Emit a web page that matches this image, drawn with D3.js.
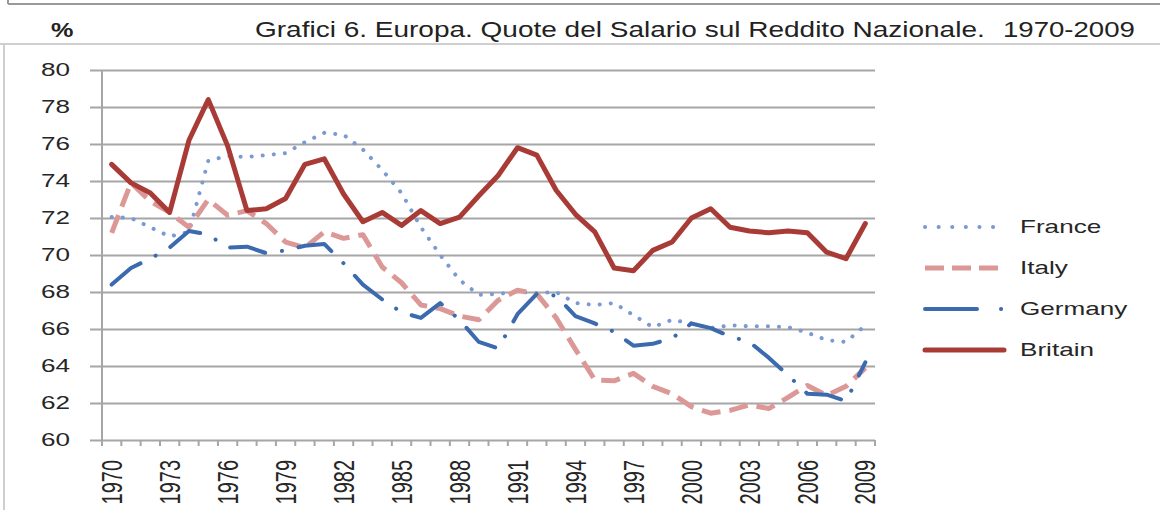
<!DOCTYPE html>
<html lang="it">

<head>
    <meta charset="UTF-8">
    <title>Grafici 6. Europa. Quote del Salario sul Reddito Nazionale</title>
    <style>
        body {
            margin: 0;
            padding: 0;
            background-color: #fff;
        }

        svg {
            display: block;
            font-family: 'Liberation Sans', Arial, sans-serif;
        }

        .grid line {
            stroke: #a6a6a6;
            stroke-width: 2px;
        }

        .tick text {
            fill: #262626;
        }

        .series {
            fill: none;
            stroke-linejoin: round;
        }
    </style>
</head>

<body>
    <svg width="1160" height="521"></svg>

    <script src="https://d3js.org/d3.v7.min.js"></script>
    <script>
        // dati
        const years = ["1970", "1971", "1972", "1973", "1974", "1975", "1976", "1977", "1978", "1979",
            "1980", "1981", "1982", "1983", "1984", "1985", "1986", "1987", "1988", "1989",
            "1990", "1991", "1992", "1993", "1994", "1995", "1996", "1997", "1998", "1999",
            "2000", "2001", "2002", "2003", "2004", "2005", "2006", "2007", "2008", "2009"];
        const yearLabels = ["1970", "1973", "1976", "1979", "1982", "1985", "1988", "1991",
            "1994", "1997", "2000", "2003", "2006", "2009"];
        const yTicks = [60, 62, 64, 66, 68, 70, 72, 74, 76, 78, 80];

        const france = [72.05, 72.0, 71.5, 71.0, 71.25, 75.1, 75.35, 75.3, 75.4, 75.5,
            76.1, 76.6, 76.5, 75.7, 74.6, 73.35, 71.5, 70.0, 68.65, 67.85,
            67.9, 68.0, 67.95, 68.0, 67.4, 67.3, 67.4, 66.75, 66.1, 66.5,
            66.3, 66.05, 66.2, 66.15, 66.15, 66.1, 65.8, 65.4, 65.3, 66.2];
        const italy = [71.2, 73.9, 72.9, 72.3, 71.5, 73.0, 72.15, 72.4, 71.7, 70.7,
            70.4, 71.25, 70.9, 71.1, 69.35, 68.5, 67.3, 67.1, 66.7, 66.5,
            67.55, 68.1, 67.9, 66.6, 64.9, 63.25, 63.2, 63.6, 62.9, 62.5,
            61.8, 61.45, 61.6, 61.9, 61.7, 62.3, 62.95, 62.4, 62.9, 63.9];
        const germany = [68.4, 69.3, 69.8, 70.4, 71.3, 71.1, 70.4, 70.45, 70.1, 70.25,
            70.5, 70.6, 69.55, 68.4, 67.6, 66.9, 66.6, 67.4, 66.5, 65.3,
            64.95, 66.8, 67.9, 67.8, 66.7, 66.3, 65.85, 65.1, 65.2, 65.5,
            66.3, 66.05, 65.6, 65.3, 64.45, 63.5, 62.5, 62.45, 62.1, 64.2];
        const britain = [74.9, 73.9, 73.35, 72.3, 76.2, 78.4, 75.9, 72.4, 72.5, 73.05,
            74.9, 75.2, 73.3, 71.8, 72.3, 71.6, 72.4, 71.7, 72.05, 73.2,
            74.3, 75.8, 75.4, 73.5, 72.2, 71.25, 69.3, 69.15, 70.25, 70.7,
            72.0, 72.5, 71.5, 71.3, 71.2, 71.3, 71.2, 70.15, 69.8, 71.7];

        const seriesNames = ["France", "Italy", "Germany", "Britain"];
        const seriesValues = [france, italy, germany, britain];

        // stile delle serie
        const styles = {
            France: { color: "#7b9ad3", width: 4, dash: "0.1,11", legendDash: "0.1,13.5", cap: "round" },
            Italy: { color: "#db9896", width: 5, dash: "19,9", legendDash: "19,8", cap: "butt" },
            Germany: { color: "#3b6aae", width: 4, dash: "36,17,0.1,17", legendDash: "52,24,0.1,24", cap: "round" },
            Britain: { color: "#a93b37", width: 5, dash: null, legendDash: null, cap: "round" }
        };

        const sx = 1.45; // il testo nell'originale appare allargato in orizzontale

        const svg = d3.select("svg");

        // cornici
        svg.append("line").attr("x1", 8).attr("x2", 1160).attr("y1", 4).attr("y2", 4)
            .attr("stroke", "#9a9a9a").attr("stroke-width", 2);
        svg.append("line").attr("x1", 8).attr("x2", 8).attr("y1", 0).attr("y2", 4)
            .attr("stroke", "#9a9a9a").attr("stroke-width", 2);
        svg.append("line").attr("x1", 0).attr("x2", 1160).attr("y1", 44).attr("y2", 44)
            .attr("stroke", "#cfcfcf").attr("stroke-width", 2);
        svg.append("line").attr("x1", 4).attr("x2", 4).attr("y1", 44).attr("y2", 510)
            .attr("stroke", "#cfcfcf").attr("stroke-width", 2);

        // titolo
        function fitText(sel, x, y, width) {
            const w = sel.node().getComputedTextLength();
            sel.attr("transform", `translate(${x},${y}) scale(${width / w},1)`);
        }
        const t1 = svg.append("text").attr("font-size", 22).attr("fill", "#222")
            .text("Grafici 6. Europa. Quote del Salario sul Reddito Nazionale.");
        fitText(t1, 255, 37, 730);
        const t2 = svg.append("text").attr("font-size", 22).attr("fill", "#222")
            .text("1970-2009");
        fitText(t2, 1003, 37, 132);
        svg.append("text").attr("font-size", 21).attr("font-weight", "bold").attr("fill", "#222")
            .attr("transform", `translate(51,37) scale(1.2,1)`)
            .text("%");

        // scale
        const x = d3.scaleBand().domain(years).range([102, 875]);
        const y = d3.scaleLinear().domain([60, 80]).range([440, 70]);
        const cx = d => x(d) + x.bandwidth() / 2;

        // griglia e etichette asse y
        const yAxis = svg.append("g")
            .attr("class", "grid")
            .attr("transform", "translate(90,0)")
            .call(d3.axisLeft(y).tickValues(yTicks).tickSize(-785).tickSizeOuter(0));
        yAxis.select(".domain").remove();
        yAxis.selectAll("text")
            .attr("x", null)
            .attr("font-size", 18)
            .attr("font-family", "'Liberation Sans', Arial, sans-serif")
            .attr("text-anchor", "end")
            .attr("transform", `translate(-20,0) scale(${sx},1)`);

        // asse verticale
        svg.append("line").attr("x1", 102).attr("x2", 102).attr("y1", y(80)).attr("y2", y(60))
            .attr("stroke", "#a6a6a6").attr("stroke-width", 2);

        // asse x: tacche ai bordi delle categorie
        const bounds = years.map(d => x(d)).concat([x.range()[1]]);
        svg.append("g").selectAll("line")
            .data(bounds)
            .enter().append("line")
            .attr("x1", d => d).attr("x2", d => d)
            .attr("y1", y(60)).attr("y2", y(60) + 6)
            .attr("stroke", "#a6a6a6").attr("stroke-width", 2);

        const xAxis = svg.append("g")
            .attr("transform", `translate(0,${y(60)})`)
            .call(d3.axisBottom(x).tickValues(yearLabels).tickSize(0).tickSizeOuter(0));
        xAxis.select(".domain").remove();
        xAxis.selectAll("text")
            .attr("y", null)
            .attr("dy", "0.35em")
            .attr("font-size", 20)
            .attr("font-family", "'Liberation Sans', Arial, sans-serif")
            .attr("text-anchor", "end")
            .attr("transform", `translate(0,20) scale(${sx},1) rotate(-90)`);

        // serie
        const line = d3.line()
            .x((d, i) => cx(years[i]))
            .y(d => y(d));

        seriesNames.forEach((name, k) => {
            const s = styles[name];
            svg.append("path")
                .datum(seriesValues[k])
                .attr("class", "series")
                .attr("d", line)
                .attr("stroke", s.color)
                .attr("stroke-width", s.width)
                .attr("stroke-linecap", s.cap)
                .attr("stroke-dasharray", s.dash);
        });

        // legenda
        const legendY = d3.scalePoint().domain(seriesNames).range([227, 350]);
        const legend = svg.append("g").selectAll("g")
            .data(seriesNames)
            .enter().append("g")
            .attr("transform", d => `translate(0,${legendY(d)})`);

        legend.append("line")
            .attr("x1", 925).attr("x2", 1004)
            .attr("y1", 0).attr("y2", 0)
            .attr("stroke", d => styles[d].color)
            .attr("stroke-width", d => styles[d].width)
            .attr("stroke-linecap", d => styles[d].cap)
            .attr("stroke-dasharray", d => styles[d].legendDash);

        legend.append("text")
            .attr("font-size", 18)
            .attr("fill", "#262626")
            .attr("transform", `translate(1020,6) scale(${sx},1)`)
            .text(d => d);
    </script>
</body>

</html>
